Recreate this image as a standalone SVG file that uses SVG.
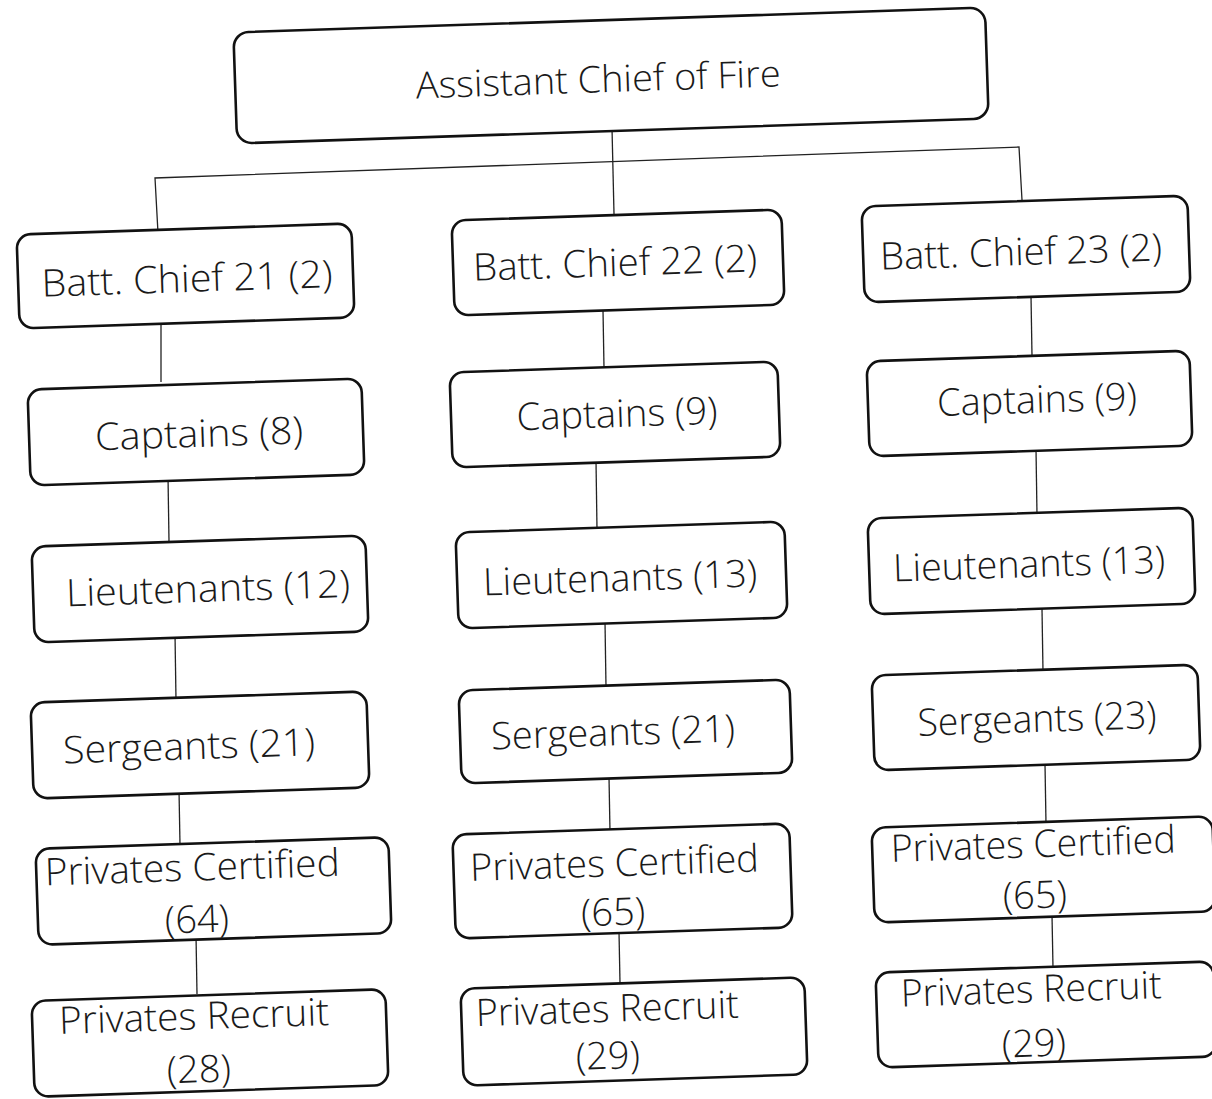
<svg xmlns="http://www.w3.org/2000/svg" width="1212" height="1099" viewBox="0 0 1212 1099">
<style>
.box{fill:#fff;stroke:#111;stroke-width:2.6}
.t{font-family:"Open Sans","DejaVu Sans",sans-serif;font-size:38px;font-weight:300;fill:#1a1a1a;text-anchor:middle}
.c{stroke:#222;stroke-width:1.3;fill:none}
</style>
<rect width="1212" height="1099" fill="#fff"/>
<g id="connectors">
<polyline class="c" points="158,233 155,178 1019,147 1022,200"/>
<line class="c" x1="612" y1="128" x2="614" y2="214"/>
<line class="c" x1="161" y1="320" x2="161" y2="382"/>
<line class="c" x1="168" y1="476" x2="169" y2="541"/>
<line class="c" x1="175" y1="634" x2="176" y2="700"/>
<line class="c" x1="179" y1="790" x2="180" y2="845"/>
<line class="c" x1="196" y1="935" x2="197" y2="994"/>
<line class="c" x1="603" y1="310" x2="604" y2="368"/>
<line class="c" x1="596" y1="461" x2="597" y2="529"/>
<line class="c" x1="605" y1="622" x2="606" y2="687"/>
<line class="c" x1="609" y1="777" x2="610" y2="832"/>
<line class="c" x1="619" y1="932" x2="620" y2="983"/>
<line class="c" x1="1031" y1="296" x2="1032" y2="356"/>
<line class="c" x1="1036" y1="449" x2="1037" y2="515"/>
<line class="c" x1="1042" y1="609" x2="1043" y2="672"/>
<line class="c" x1="1045" y1="764" x2="1046" y2="824"/>
<line class="c" x1="1052" y1="915" x2="1053" y2="968"/>
</g>
<g id="n-top" transform="rotate(-1.9 611 75)">
<rect class="box" x="235" y="20" width="752" height="111" rx="15"/>
<text class="t" x="598" y="92" style="font-size:37px" textLength="365" lengthAdjust="spacingAndGlyphs">Assistant Chief of Fire</text>
</g>
<g id="n-bc21" transform="rotate(-1.9 185 276)">
<rect class="box" x="18" y="229" width="335" height="94" rx="14"/>
<text class="t" x="187" y="292" textLength="291" lengthAdjust="spacingAndGlyphs">Batt. Chief 21 (2)</text>
</g>
<g id="n-bc22" transform="rotate(-1.9 618 262)">
<rect class="box" x="453" y="215" width="330" height="95" rx="14"/>
<text class="t" x="615" y="276" textLength="284" lengthAdjust="spacingAndGlyphs">Batt. Chief 22 (2)</text>
</g>
<g id="n-bc23" transform="rotate(-1.9 1026 249)">
<rect class="box" x="863" y="201" width="326" height="96" rx="14"/>
<text class="t" x="1021" y="265" textLength="282" lengthAdjust="spacingAndGlyphs">Batt. Chief 23 (2)</text>
</g>
<g id="n-cap1" transform="rotate(-1.9 196 432)">
<rect class="box" x="29" y="384" width="334" height="96" rx="14"/>
<text class="t" x="199" y="447" textLength="208" lengthAdjust="spacingAndGlyphs">Captains (8)</text>
</g>
<g id="n-cap2" transform="rotate(-1.9 615 414)">
<rect class="box" x="451" y="367" width="328" height="95" rx="14"/>
<text class="t" x="617" y="427" textLength="201" lengthAdjust="spacingAndGlyphs">Captains (9)</text>
</g>
<g id="n-cap3" transform="rotate(-1.9 1029 403)">
<rect class="box" x="868" y="356" width="323" height="95" rx="14"/>
<text class="t" x="1037" y="413" textLength="200" lengthAdjust="spacingAndGlyphs">Captains (9)</text>
</g>
<g id="n-lt1" transform="rotate(-1.9 200 589)">
<rect class="box" x="33" y="541" width="334" height="96" rx="14"/>
<text class="t" x="208" y="602" textLength="284" lengthAdjust="spacingAndGlyphs">Lieutenants (12)</text>
</g>
<g id="n-lt2" transform="rotate(-1.9 622 575)">
<rect class="box" x="457" y="527" width="329" height="96" rx="14"/>
<text class="t" x="620" y="591" textLength="274" lengthAdjust="spacingAndGlyphs">Lieutenants (13)</text>
</g>
<g id="n-lt3" transform="rotate(-1.9 1032 561)">
<rect class="box" x="869" y="513" width="325" height="96" rx="14"/>
<text class="t" x="1029" y="577" textLength="272" lengthAdjust="spacingAndGlyphs">Lieutenants (13)</text>
</g>
<g id="n-sg1" transform="rotate(-1.9 200 745)">
<rect class="box" x="32" y="697" width="336" height="96" rx="14"/>
<text class="t" x="189" y="759" textLength="252" lengthAdjust="spacingAndGlyphs">Sergeants (21)</text>
</g>
<g id="n-sg2" transform="rotate(-1.9 625 731)">
<rect class="box" x="460" y="685" width="331" height="93" rx="14"/>
<text class="t" x="613" y="745" textLength="244" lengthAdjust="spacingAndGlyphs">Sergeants (21)</text>
</g>
<g id="n-sg3" transform="rotate(-1.9 1036 717)">
<rect class="box" x="873" y="670" width="326" height="95" rx="14"/>
<text class="t" x="1037" y="732" textLength="239" lengthAdjust="spacingAndGlyphs">Sergeants (23)</text>
</g>
<g id="n-pc1" transform="rotate(-1.9 213 891)">
<rect class="box" x="37" y="843" width="353" height="96" rx="14"/>
<text class="t" x="193" y="880" textLength="295" lengthAdjust="spacingAndGlyphs">Privates Certified</text>
<text class="t" x="196" y="932">(64)</text>
</g>
<g id="n-pc2" transform="rotate(-1.9 622 881)">
<rect class="box" x="454" y="829" width="337" height="104" rx="14"/>
<text class="t" x="615" y="876" textLength="289" lengthAdjust="spacingAndGlyphs">Privates Certified</text>
<text class="t" x="612" y="925">(65)</text>
</g>
<g id="n-pc3" transform="rotate(-1.9 1043 870)">
<rect class="box" x="873" y="822" width="341" height="95" rx="14"/>
<text class="t" x="1034" y="857" textLength="285" lengthAdjust="spacingAndGlyphs">Privates Certified</text>
<text class="t" x="1034" y="908">(65)</text>
</g>
<g id="n-pr1" transform="rotate(-1.9 210 1043)">
<rect class="box" x="33" y="995" width="354" height="96" rx="14"/>
<text class="t" x="195" y="1029" textLength="270" lengthAdjust="spacingAndGlyphs">Privates Recruit</text>
<text class="t" x="198" y="1082">(28)</text>
</g>
<g id="n-pr2" transform="rotate(-1.9 634 1032)">
<rect class="box" x="462" y="983" width="344" height="97" rx="14"/>
<text class="t" x="608" y="1021" textLength="263" lengthAdjust="spacingAndGlyphs">Privates Recruit</text>
<text class="t" x="607" y="1068">(29)</text>
</g>
<g id="n-pr3" transform="rotate(-1.9 1046 1015)">
<rect class="box" x="877" y="967" width="338" height="95" rx="14"/>
<text class="t" x="1032" y="1002" textLength="261" lengthAdjust="spacingAndGlyphs">Privates Recruit</text>
<text class="t" x="1033" y="1056">(29)</text>
</g>
</svg>
